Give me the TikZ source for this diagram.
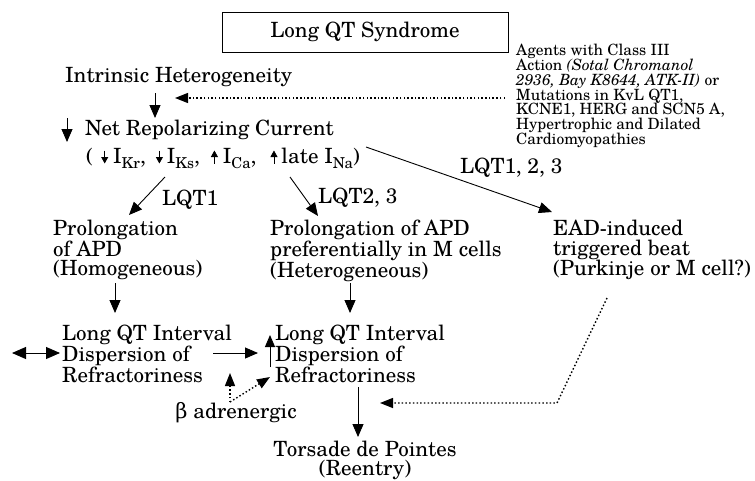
\documentclass[tikz,border=0pt]{standalone}
\usepackage{fontspec}
\setmainfont{TeX Gyre Schola}
\newfontfamily\grk{DejaVu Serif}
\usetikzlibrary{arrows.meta}
\newcommand\arrdn{\tikz[baseline=0pt]\draw[line width=0.8pt,-{Triangle[length=6.5pt,width=7pt]}] (0pt,12.5pt)--(0pt,-0.5pt);}
\newcommand\arrup{\tikz[baseline=0pt]\draw[line width=0.8pt,-{Triangle[length=6.5pt,width=7pt]}] (0pt,-0.5pt)--(0pt,12.5pt);}
\newcommand\sbs[1]{\raisebox{-0.25em}{\fontsize{15}{15}\selectfont #1}}
\begin{document}
\begin{tikzpicture}[x=1pt,y=-1pt,
  font=\fontsize{21}{19.5}\selectfont,
  lbl/.style={inner sep=0pt, align=left},
  arr/.style={line width=0.9pt,-{Triangle[length=13pt,width=11pt]}},
  dotarr/.style={line width=1.4pt, dash pattern=on 1.5pt off 2.2pt, -{Triangle[length=13pt,width=10pt]}}]
\fill[white] (0,0) rectangle (755,480);
\useasboundingbox (0,0) rectangle (755,480);

\node[draw, line width=0.9pt, minimum width=286pt, minimum height=40pt, inner sep=0pt] (syn) at (365,32) {Long QT Syndrome};
\node[lbl, anchor=north west, font=\fontsize{15.5}{14.8}\selectfont] (agents) at (516,44)
  {Agents with Class III\\Action \textit{(Sotal Chromanol}\\\textit{2936, Bay K8644, ATK-II)} or\\Mutations in KvL QT1,\\KCNE1, HERG and SCN5 A,\\Hypertrophic and Dilated\\Cardiomyopathies};
\node[lbl, anchor=west] (intr) at (65,77) {Intrinsic Heterogeneity};
\node[lbl, anchor=west] (net) at (85,130) {Net Repolarizing Current};
\node[lbl, anchor=west] (curr) at (86,158) {(\hspace{8pt}\arrdn\hspace{5pt}I\sbs{Kr},\hspace{10pt}\arrdn\hspace{4pt}I\sbs{Ks},\hspace{11pt}\arrup\hspace{5pt}I\sbs{Ca},\hspace{14pt}\arrup\hspace{4pt}late I\sbs{Na})};
\node[lbl, anchor=west] (l1) at (162,200) {LQT1};
\node[lbl, anchor=west] (l23) at (318,198) {LQT2, 3};
\node[lbl, anchor=west] (l123) at (460,168) {LQT1, 2, 3};
\node[lbl, anchor=north west] (pro1) at (53,220) {Prolongation\\of APD\\(Homogeneous)};
\node[lbl, anchor=north west] (pro2) at (270,220) {Prolongation of APD\\preferentially in M cells\\(Heterogeneous)};
\node[lbl, anchor=north west] (ead) at (553,220) {EAD-induced\\triggered beat\\(Purkinje or M cell?)};
\node[lbl, anchor=north west] (lqi1) at (62,325) {Long QT Interval\\Dispersion of\\Refractoriness};
\node[lbl, anchor=north west] (lqi2) at (275,325) {Long QT Interval\\Dispersion of\\Refractoriness};
\node[lbl] (beta) at (236,413) {{\grk β} adrenergic};
\node[lbl, align=center, font=\fontsize{21}{19}\selectfont] (tor) at (365,460) {Torsade de Pointes\\(Reentry)};

% connector end points
\coordinate (dtip) at (175,98);
\coordinate (dtail) at (505,98);
\coordinate (i1) at (155,93);
\coordinate (i2) at (155,118);
\coordinate (n1) at (67,118);
\coordinate (n2) at (67,142);
\coordinate (q1a) at (165,177);
\coordinate (q1b) at (129,215);
\coordinate (q2a) at (290,177);
\coordinate (q2b) at (318,216);
\coordinate (ea) at (366,147);
\coordinate (eb) at (552,212);
\coordinate (p1a) at (115,283);
\coordinate (p1b) at (115,313);
\coordinate (p2a) at (350,283);
\coordinate (p2b) at (350,313);
\coordinate (da) at (12,353);
\coordinate (db) at (60,353);
\coordinate (ha) at (213,353);
\coordinate (hb) at (258,353);
\coordinate (ua) at (270,367);
\coordinate (ub) at (270,335);
\coordinate (b0) at (230,402);
\coordinate (b1) at (230,373);
\coordinate (b2) at (270,377);
\coordinate (ta) at (358,387);
\coordinate (tb) at (358,437);
\coordinate (ra) at (607,298);
\coordinate (rb) at (557,403);
\coordinate (rc) at (380,403);

\draw[dotarr] (dtail) -- (dtip);
\draw[arr] (i1) -- (i2);
\draw[arr] (n1) -- (n2);
\draw[arr] (q1a) -- (q1b);
\draw[arr] (q2a) -- (q2b);
\draw[arr] (ea) -- (eb);
\draw[arr] (p1a) -- (p1b);
\draw[arr] (p2a) -- (p2b);
\draw[line width=0.9pt,{Triangle[length=14pt,width=12pt]}-{Triangle[length=14pt,width=12pt]}] (da) -- (db);
\draw[arr] (ha) -- (hb);
\draw[line width=0.9pt,-{Triangle[length=12pt,width=10pt]}] (ua) -- (ub);
\draw[dotarr] (b0) -- (b1);
\draw[dotarr] (b0) -- (b2);
\draw[arr] (ta) -- (tb);
\draw[dotarr] (ra) -- (rb) -- (rc);
\end{tikzpicture}
\end{document}
